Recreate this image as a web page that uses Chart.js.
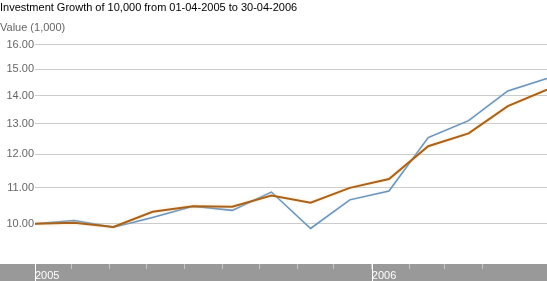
<!DOCTYPE html>
<html>
<head>
<meta charset="utf-8">
<script src="https://cdn.jsdelivr.net/npm/chart.js@4"></script>
<style>
html,body{margin:0;padding:0;background:#fff;}
#wrap{position:relative;width:547px;height:281px;}
</style>
</head>
<body>
<div id="wrap"><canvas id="c" width="547" height="281"></canvas></div>
<script>
// ---- data ----
const titleText = 'Investment Growth of 10,000 from 01-04-2005 to 30-04-2006';
const axisTitle = 'Value (1,000)';
// x positions of the points, in days after 01-04-2005
const pointDays = [0, 32, 64, 96, 129, 161, 193, 225, 257, 289, 321, 354, 386, 418];
const blueSeries = [10.00, 10.09, 9.91, 10.17, 10.47, 10.36, 10.87, 9.88, 10.65, 10.90, 12.54, 13.11, 14.17, 14.64];
const orangeSeries = [10.00, 10.03, 9.92, 10.32, 10.47, 10.46, 10.77, 10.57, 10.99, 11.25, 12.26, 12.68, 13.62, 14.22];
const yTicks = [10, 11, 12, 13, 14, 15, 16];
// month tick positions (days after 01-04-2005) and their labels
const monthTickDays = [0, 30, 61, 91, 122, 153, 183, 214, 244, 275, 306, 334, 365];
const monthTickLabels = ['2005', '', '', '', '', '', '', '', '', '2006', '', '', ''];

const FONT = "'Liberation Sans', Arial, sans-serif";

const toXY = vals => vals.map((v, i) => ({x: pointDays[i], y: v}));

const bandPlugin = {
  id: 'band',
  beforeDraw(chart) {
    const {ctx, chartArea, width, height} = chart;
    ctx.save();
    ctx.fillStyle = '#999999';
    ctx.fillRect(0, chartArea.bottom, width, height - chartArea.bottom);
    ctx.restore();
  },
  afterDraw(chart) {
    const {ctx, chartArea, height} = chart;
    const xs = chart.scales.x;
    ctx.save();
    ctx.strokeStyle = '#ffffff';
    ctx.lineWidth = 1;
    monthTickDays.forEach((d, i) => {
      if (monthTickLabels[i]) {
        const px = Math.round(xs.getPixelForValue(d)) + 0.5;
        ctx.beginPath();
        ctx.moveTo(px, chartArea.bottom);
        ctx.lineTo(px, height);
        ctx.stroke();
      }
    });
    ctx.restore();
    // titles
    ctx.save();
    ctx.textBaseline = 'alphabetic';
    ctx.textAlign = 'left';
    ctx.font = '11px ' + FONT;
    ctx.fillStyle = '#000000';
    ctx.fillText(titleText, 0, 11);
    ctx.fillStyle = '#666666';
    ctx.fillText(axisTitle, 0, 31);
    ctx.restore();
  }
};

const glowPlugin = {
  id: 'glow',
  beforeDatasetDraw(chart, args) {
    const ctx = chart.ctx;
    ctx.save();
    if (args.index === 0) {
      ctx.shadowColor = 'rgba(255,205,130,0.6)';
      ctx.shadowBlur = 3;
    } else {
      ctx.shadowColor = 'rgba(180,215,240,0.5)';
      ctx.shadowBlur = 2;
    }
  },
  afterDatasetDraw(chart) {
    chart.ctx.restore();
  }
};

new Chart(document.getElementById('c'), {
  type: 'line',
  data: {
    datasets: [
      {
        label: 'Fund B',
        data: toXY(orangeSeries),
        borderColor: '#a9621d',
        borderWidth: 2,
        pointRadius: 0,
        tension: 0,
        fill: false
      },
      {
        label: 'Fund A',
        data: toXY(blueSeries),
        borderColor: '#6c93b9',
        borderWidth: 1.5,
        pointRadius: 0,
        tension: 0,
        fill: false
      }
    ]
  },
  options: {
    responsive: false,
    animation: false,
    devicePixelRatio: 1,
    layout: {padding: {top: 40, left: 0, right: 0, bottom: 0}},
    plugins: {
      legend: {display: false},
      title: {display: false},
      tooltip: {enabled: false}
    },
    scales: {
      x: {
        type: 'linear',
        min: 0,
        max: pointDays[pointDays.length - 1],
        border: {display: false},
        grid: {
          drawOnChartArea: false,
          drawTicks: true,
          tickLength: 5,
          color: 'rgba(215,215,215,0.7)'
        },
        afterBuildTicks(scale) {
          scale.ticks = monthTickDays.map(d => ({value: d}));
        },
        afterFit(scale) { scale.height = 17; },
        ticks: {
          autoSkip: false,
          maxRotation: 0,
          align: 'start',
          padding: 0,
          color: '#ffffff',
          font: {family: FONT, size: 11},
          callback: (v, i) => monthTickLabels[i]
        }
      },
      y: {
        type: 'logarithmic',
        min: 9,
        max: 16.2,
        border: {display: false},
        grid: {
          color: '#cccccc',
          drawTicks: false
        },
        afterBuildTicks(scale) {
          scale.ticks = yTicks.map(v => ({value: v}));
        },
        afterFit(scale) { scale.width = 35; },
        ticks: {
          padding: 1,
          color: '#666666',
          font: {family: FONT, size: 11},
          callback: v => Number(v).toFixed(2)
        }
      }
    }
  },
  plugins: [bandPlugin, glowPlugin]
});
</script>
</body>
</html>
